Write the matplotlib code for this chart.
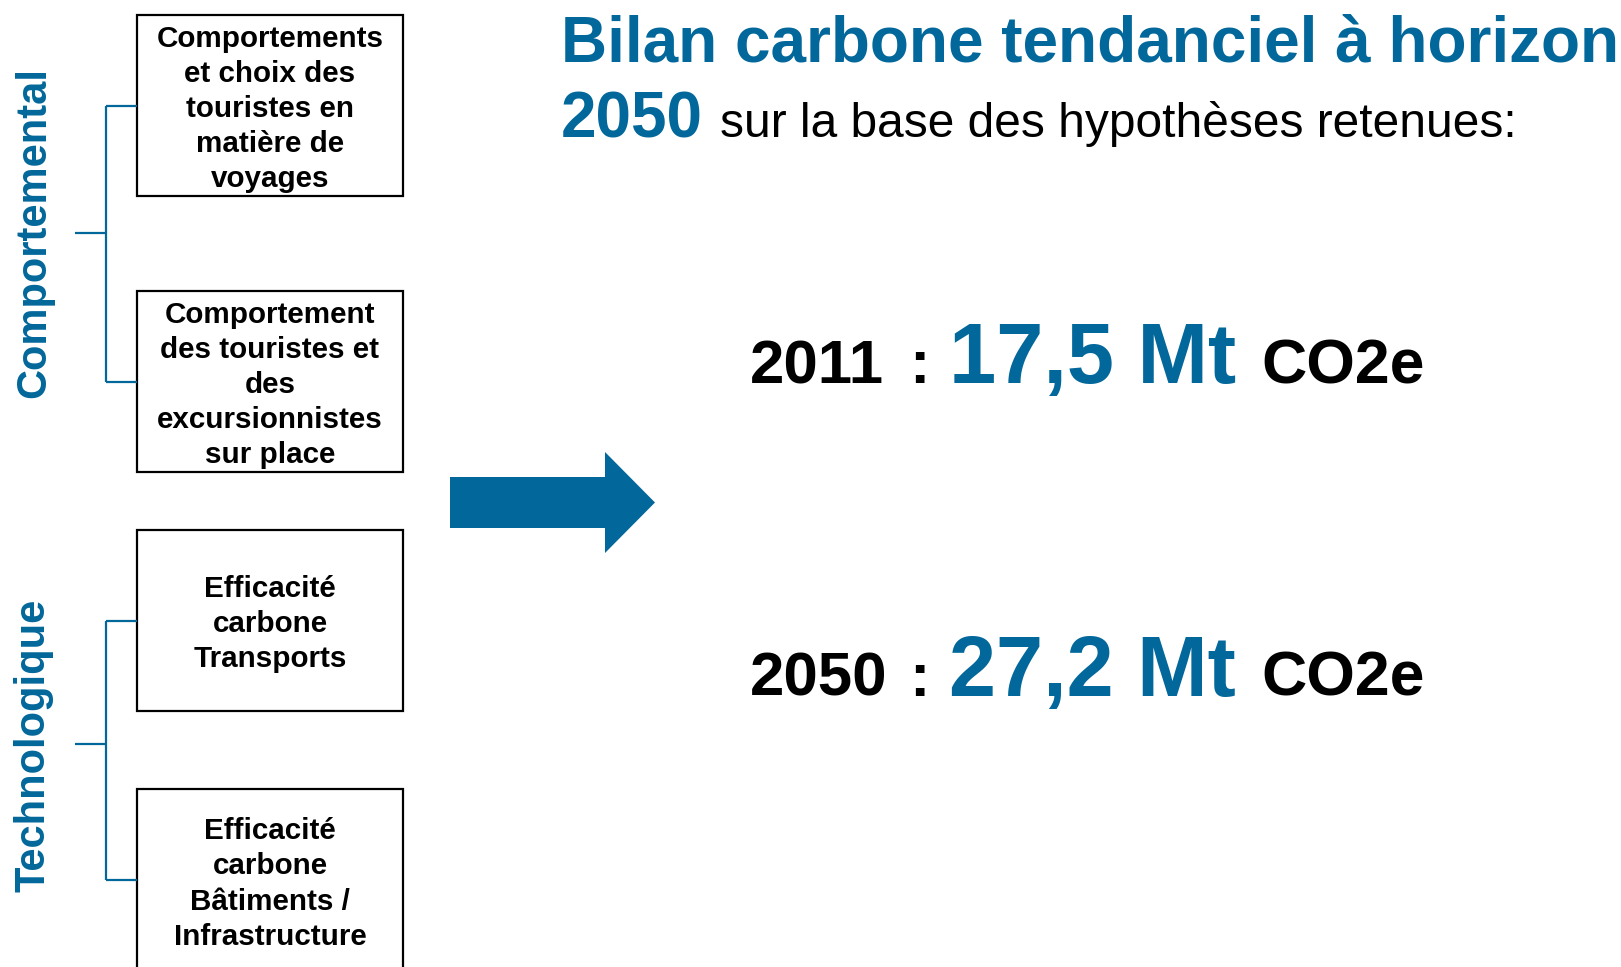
import matplotlib
matplotlib.use("Agg")
import matplotlib.pyplot as plt
from matplotlib.patches import Rectangle, FancyArrow

plt.rcParams["font.family"] = ["Liberation Sans", "DejaVu Sans"]

BLUE = "#02679A"

# --- content ---
title_line1 = "Bilan carbone tendanciel à horizon"
title_year = "2050"
title_rest = "sur la base des hypothèses retenues:"

group_labels = ["Comportemental", "Technologique"]
box_labels = [
    "Comportements\net choix des\ntouristes en\nmatière de\nvoyages",
    "Comportement\ndes touristes et\ndes\nexcursionnistes\nsur place",
    "Efficacité\ncarbone\nTransports",
    "Efficacité\ncarbone\nBâtiments /\nInfrastructure",
]
years = ["2011", "2050"]
emissions_mt = [17.5, 27.2]
unit = "CO2e"

# --- canvas in pixel coordinates (y downward) ---
W, H = 1621, 967
fig = plt.figure(figsize=(W / 100, H / 100), dpi=100)
ax = fig.add_axes([0, 0, 1, 1])
ax.set_xlim(0, W)
ax.set_ylim(H, 0)
ax.axis("off")

# boxes on the left
box_x0, box_x1 = 137, 403
box_tops = [15, 291, 530, 789]
box_h = 181
box_text_y = [109, 385, 624, 884]
for top, ty, label in zip(box_tops, box_text_y, box_labels):
    ax.add_patch(Rectangle((box_x0, top), box_x1 - box_x0, box_h,
                           facecolor="white", edgecolor="black", linewidth=1.6))
    ax.text((box_x0 + box_x1) / 2, ty, label, ha="center", va="center",
            fontsize=21.3, fontweight="bold", color="black", linespacing=1.32)

# brackets joining each pair of boxes to its group label
bracket_x = 106
for i, label in enumerate(group_labels):
    y_a = box_tops[2 * i] + box_h / 2
    y_b = box_tops[2 * i + 1] + box_h / 2
    stub_y = [233, 744][i]
    ax.plot([bracket_x, bracket_x], [y_a, y_b], color=BLUE, lw=1.6, solid_capstyle="butt")
    ax.plot([bracket_x, box_x0], [y_a, y_a], color=BLUE, lw=1.6, solid_capstyle="butt")
    ax.plot([bracket_x, box_x0], [y_b, y_b], color=BLUE, lw=1.6, solid_capstyle="butt")
    ax.plot([75, bracket_x], [stub_y, stub_y], color=BLUE, lw=1.6, solid_capstyle="butt")
    ax.text(45, [233, 745][i], label, rotation=90, rotation_mode="anchor",
            ha="center", va="baseline", fontsize=30, fontweight="bold", color=BLUE)

# big arrow
ax.add_patch(FancyArrow(450, 502.5, 205, 0, width=51, head_width=101, head_length=50,
                        length_includes_head=True, facecolor=BLUE, edgecolor="none"))

# title
ax.text(561, 62, title_line1, ha="left", va="baseline", fontsize=46,
        fontweight="bold", color=BLUE)
ax.text(561, 137, title_year, ha="left", va="baseline", fontsize=46,
        fontweight="bold", color=BLUE)
ax.text(720, 137, title_rest, ha="left", va="baseline", fontsize=34.5, color="black")

# emission figures
for year, val, base in zip(years, emissions_mt, [383, 696]):
    ax.text(750, base, year, ha="left", va="baseline", fontsize=44.5,
            fontweight="bold", color="black")
    ax.text(909, base, ":", ha="left", va="baseline", fontsize=44,
            fontweight="bold", color="black")
    ax.text(949, base, f"{val:.1f}".replace(".", ",") + " Mt", ha="left", va="baseline",
            fontsize=61, fontweight="bold", color=BLUE)
    ax.text(1261, base, unit, ha="left", va="baseline", fontsize=45,
            fontweight="bold", color="black")

fig.savefig("out.png", dpi=100, facecolor="white")
